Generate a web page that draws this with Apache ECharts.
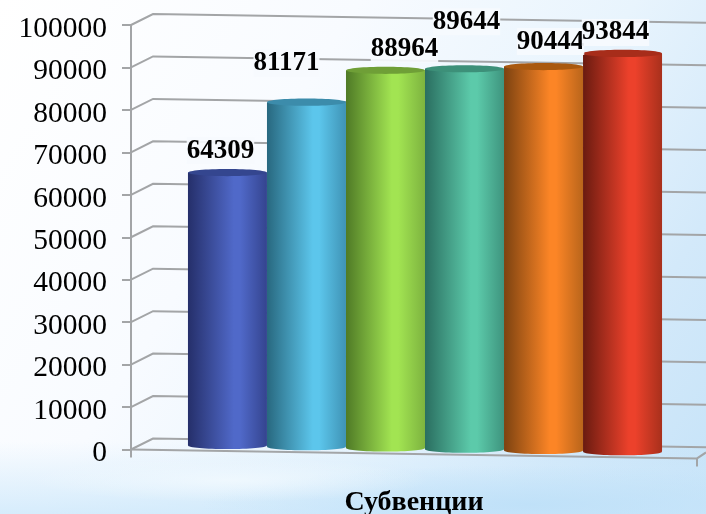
<!DOCTYPE html>
<html>
<head>
<meta charset="utf-8">
<style>
html,body{margin:0;padding:0;width:706px;height:514px;overflow:hidden;
background:
 radial-gradient(ellipse 200px 22px at 230px 480px, rgba(245,251,255,.7), rgba(245,251,255,0)),
 radial-gradient(ellipse 330px 40px at 530px 505px, rgba(190,224,248,.9), rgba(190,224,248,0)),
 linear-gradient(180deg,rgba(205,232,251,0) 86%,rgba(205,232,251,.4) 93%,rgba(205,232,251,.8) 100%),
 linear-gradient(122deg,#ffffff 0%,#f8fbff 35%,#e8f4fd 62%,#d3e9fa 82%,#c6e3f8 100%);}
#c{width:706px;height:514px}
</style>
<script src="https://cdn.jsdelivr.net/npm/echarts@6/dist/echarts.min.js"></script>
</head>
<body>
<div id="c"></div>
<script>
const categories = ['Субвенции'];
const seriesValues = [64309, 81171, 88964, 89644, 90444, 93844];
const yTicks = [0,10000,20000,30000,40000,50000,60000,70000,80000,90000,100000];

// appearance only
const palette = [
  {edgeL:'#252f6a',mid:'#5069c9',edgeR:'#34448f',top:'#34468f'},
  {edgeL:'#28687f',mid:'#5cc6ec',edgeR:'#3f93b5',top:'#3c8cab'},
  {edgeL:'#4f7a26',mid:'#a2e452',edgeR:'#7db33f',top:'#6f9f37'},
  {edgeL:'#2a6e60',mid:'#5ccaaa',edgeR:'#3e947e',top:'#3d9079'},
  {edgeL:'#7c4210',mid:'#fc8526',edgeR:'#b9651b',top:'#a9590f'},
  {edgeL:'#6a1b10',mid:'#ec412b',edgeR:'#a8301c',top:'#a72d1a'}
];
const labelNudge = [[-7,-22],[-20,-39],[19,-21],[2,-47],[7,-25],[-7,-21]];
const GREY = '#a3a5a7', DEPTH_X = 22, DEPTH_Y = 11, SLOPE = 0.0158, BAR_SHARE = 0.1396;

const chart = echarts.init(document.getElementById('c'));

function renderWall(params, api){
  const r = params.coordSys, v = api.value(0), y = api.coord([0,v])[1];
  const x0 = r.x, bx = x0 + DEPTH_X, end = 706;
  const kids = [{type:'polyline',shape:{points:[[x0,y],[bx,y-DEPTH_Y],[end,y-DEPTH_Y+(end-bx)*SLOPE]]},
    style:{stroke:GREY,lineWidth:2,fill:null}}];
  if(v===0){
    const fx = r.x + r.width, fy = y + r.width*SLOPE;
    kids.push({type:'polyline',shape:{points:[[x0,y],[fx,fy],[end,fy-6]]},style:{stroke:GREY,lineWidth:2,fill:null}});
    kids.push({type:'line',shape:{x1:x0,y1:y,x2:x0,y2:y+8},style:{stroke:GREY,lineWidth:2}});
    kids.push({type:'line',shape:{x1:fx,y1:fy,x2:fx,y2:fy+8},style:{stroke:GREY,lineWidth:2}});
  }
  return {type:'group',children:kids};
}
function barGeom(params, api){
  const i = api.value(2), r = params.coordSys;
  const band = api.size([1,0])[0], w = band*BAR_SHARE;
  const cx = api.coord([0,0])[0] + DEPTH_X/2 + (i-2.5)*w;
  const skew = (cx-r.x)*SLOPE - DEPTH_Y/2;
  return {i,w,cx,top:api.coord([0,api.value(1)])[1]+skew,base:api.coord([0,0])[1]+skew};
}
function renderBar(params, api){
  const g = barGeom(params,api), c = palette[g.i], ry = 3.6;
  const grad = {type:'linear',x:0,y:0,x2:1,y2:0,colorStops:[
    {offset:0,color:c.edgeL},{offset:.58,color:c.mid},{offset:.66,color:c.mid},{offset:1,color:c.edgeR}]};
  return {type:'group',children:[
    {type:'ellipse',shape:{cx:g.cx,cy:g.base,rx:g.w/2,ry:ry},style:{fill:grad}},
    {type:'rect',shape:{x:g.cx-g.w/2,y:g.top,width:g.w,height:g.base-g.top},style:{fill:grad}},
    {type:'ellipse',shape:{cx:g.cx,cy:g.top,rx:g.w/2,ry:ry},style:{fill:c.top}}
  ]};
}
function renderLabel(params, api){
  const g = barGeom(params,api), n = labelNudge[g.i];
  return {type:'text',style:{text:String(api.value(1)),x:g.cx+n[0],y:g.top+n[1],align:'center',verticalAlign:'middle',
    font:'bold 27px "Liberation Serif"',fill:'#000',backgroundColor:'rgba(246,250,254,0.92)',padding:0}};
}
const barData = seriesValues.map((v,i)=>[0,v,i]);
chart.setOption({
  animation:false,
  grid:{left:131,right:9,top:25,bottom:64.5,outerBoundsMode:'none'},
  xAxis:{type:'category',data:categories,axisLine:{show:false},axisTick:{show:false},
    axisLabel:{color:'#000',fontFamily:'Liberation Serif',fontWeight:'bold',fontSize:28,margin:39}},
  yAxis:{type:'value',min:0,max:100000,interval:10000,splitLine:{show:false},
    axisLine:{show:true,lineStyle:{color:GREY,width:2}},
    axisTick:{show:true,length:9,lineStyle:{color:GREY,width:2}},
    axisLabel:{color:'#000',fontFamily:'Liberation Serif',fontSize:29.5,margin:24,verticalAlign:'top',lineHeight:8,formatter:v=>String(v)}},
  series:[
    {type:'custom',z:1,silent:true,clip:false,data:yTicks.map(v=>[v]),encode:{y:0},renderItem:renderWall},
    {type:'custom',z:3,silent:true,clip:false,data:barData,encode:{x:0,y:1},renderItem:renderBar},
    {type:'custom',z:5,silent:true,clip:false,data:barData,encode:{x:0,y:1},renderItem:renderLabel}
  ]
});
</script>
</body>
</html>
